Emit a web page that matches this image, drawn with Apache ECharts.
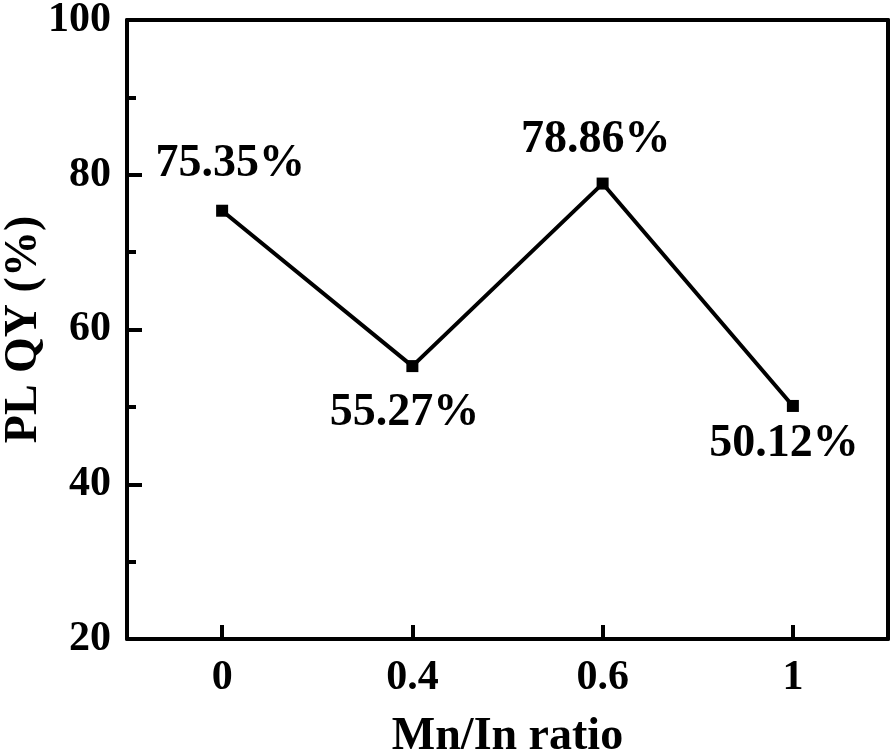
<!DOCTYPE html>
<html>
<head>
<meta charset="utf-8">
<script src="https://cdn.jsdelivr.net/npm/echarts@6/dist/echarts.min.js"></script>
<style>
  html, body { margin: 0; padding: 0; background: #fff; }
  #chart { width: 894px; height: 752px; }
</style>
</head>
<body>
<div id="chart"></div>
<script>
// --- data ---
const ratios = ['0', '0.4', '0.6', '1'];
const plqy = [75.35, 55.27, 78.86, 50.12];

// label placement per point (style only)
const labelPos = [
  { position: 'top', distance: 18, offset: [8, 0] },
  { position: 'bottom', distance: 18, offset: [-8, 0] },
  { position: 'top', distance: 14, offset: [-7, 0] },
  { position: 'bottom', distance: 9, offset: [-9, 0] },
];

const font = 'Liberation Serif';
const ink = '#000';
const frameLine = { show: true, lineStyle: { color: ink, width: 4 } };

const chart = echarts.init(document.getElementById('chart'));

chart.setOption({
  animation: false,
  backgroundColor: '#fff',
  grid: { left: 127, right: 6, top: 20, bottom: 113, outerBoundsMode: 'none' },
  xAxis: [{
    type: 'category',
    data: ratios,
    boundaryGap: true,
    name: 'Mn/In ratio',
    nameLocation: 'middle',
    nameGap: 75,
    nameMoveOverlap: false,
    nameTextStyle: { color: ink, fontFamily: font, fontWeight: 'bold', fontSize: 46 },
    axisLine: frameLine,
    axisTick: { show: true, alignWithLabel: true, inside: true, length: 14, lineStyle: { color: ink, width: 4 } },
    axisLabel: { color: ink, fontFamily: font, fontWeight: 'bold', fontSize: 42, margin: 18 },
    splitLine: { show: false },
  }, {
    type: 'category',
    data: ratios,
    position: 'top',
    axisLine: frameLine,
    axisTick: { show: false },
    axisLabel: { show: false },
    splitLine: { show: false },
  }],
  yAxis: [{
    type: 'value',
    min: 20, max: 100, interval: 20,
    name: 'PL QY (%)',
    nameLocation: 'middle',
    nameGap: 80,
    nameMoveOverlap: false,
    nameTextStyle: { color: ink, fontFamily: font, fontWeight: 'bold', fontSize: 46 },
    axisLine: frameLine,
    axisTick: { show: true, inside: true, length: 15, lineStyle: { color: ink, width: 4 } },
    minorTick: { show: true, splitNumber: 2, length: 9, lineStyle: { color: ink, width: 4 } },
    axisLabel: { color: ink, fontFamily: font, fontWeight: 'bold', fontSize: 42, margin: 16 },
    splitLine: { show: false },
  }, {
    type: 'value',
    min: 20, max: 100, interval: 20,
    position: 'right',
    axisLine: frameLine,
    axisTick: { show: false },
    axisLabel: { show: false },
    splitLine: { show: false },
  }],
  series: [{
    type: 'line',
    data: plqy.map((v, i) => ({
      value: v,
      label: {
        show: true,
        position: labelPos[i].position,
        distance: labelPos[i].distance,
        offset: labelPos[i].offset,
        formatter: p => p.value.toFixed(2) + '%',
      },
    })),
    symbol: 'rect',
    symbolSize: 12,
    itemStyle: { color: ink },
    lineStyle: { color: ink, width: 4 },
    label: { color: ink, fontFamily: font, fontWeight: 'bold', fontSize: 46 },
  }],
});
</script>
</body>
</html>
